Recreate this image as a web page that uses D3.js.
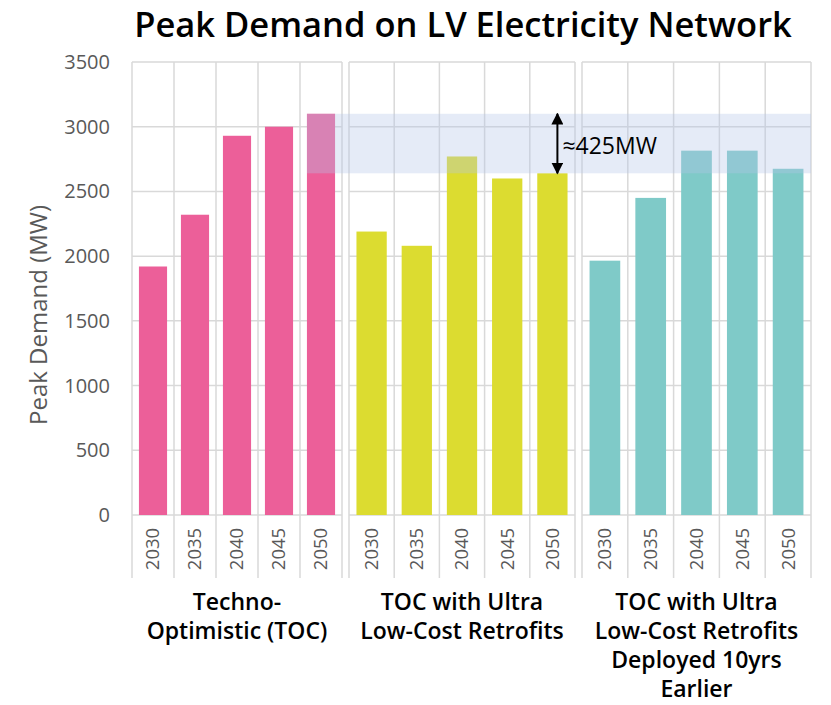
<!DOCTYPE html>
<html>
<head>
<meta charset="utf-8">
<script src="https://cdn.jsdelivr.net/npm/d3@7"></script>
<style>
  body { margin: 0; background: #fff; }
  text { font-family: "Open Sans", "Noto Sans", sans-serif; }
</style>
</head>
<body>
<svg id="chart"></svg>
<script>
// Data
var years = ['2030', '2035', '2040', '2045', '2050']
var scenarioLabels = [
  ['Techno-', 'Optimistic (TOC)'],
  ['TOC with Ultra', 'Low-Cost Retrofits'],
  ['TOC with Ultra', 'Low-Cost Retrofits', 'Deployed 10yrs', 'Earlier']
]
var tocValues = [1920, 2320, 2930, 3000, 3100]
var ultraValues = [2190, 2080, 2770, 2600, 2640]
var earlierValues = [1965, 2450, 2815, 2815, 2675]
var yTicks = [0, 500, 1000, 1500, 2000, 2500, 3000, 3500]
var gapLabel = '≈425MW'

var series = [tocValues, ultraValues, earlierValues]
var colors = ['#ec5f99', '#dcdc30', '#7fcac8']

var width = 831,
    height = 705

var svg = d3.select('#chart')
  .attr('width', width)
  .attr('height', height)

// Scales
var y = d3.scaleLinear().domain([0, 3500]).range([515, 62])
var panelExtents = [[132, 342], [349, 575], [582, 811]]
var xs = panelExtents.map(function (e) {
  return d3.scaleBand().domain(years).range(e).paddingInner(0.33).paddingOuter(0.165)
})
var gridBottom = 578
var gridColor = '#d9d9d9'

// Title
svg.append('text')
  .attr('x', 463)
  .attr('y', 37)
  .attr('text-anchor', 'middle')
  .attr('font-size', 34.5)
  .attr('font-weight', 600)
  .attr('fill', '#000')
  .text('Peak Demand on LV Electricity Network')

// Y axis label
svg.append('text')
  .attr('transform', 'translate(47,315) rotate(-90)')
  .attr('text-anchor', 'middle')
  .attr('font-size', 24)
  .attr('fill', '#595959')
  .text('Peak Demand (MW)')

// Y tick labels
svg.append('g')
  .selectAll('text')
  .data(yTicks)
  .enter()
  .append('text')
  .attr('x', 110)
  .attr('y', function (d) { return y(d) })
  .attr('dy', '0.35em')
  .attr('text-anchor', 'end')
  .attr('font-size', 20)
  .attr('fill', '#595959')
  .text(function (d) { return d })

// Panels
panelExtents.forEach(function (ext, i) {
  var x = xs[i]
  var g = svg.append('g')
  var step = x.step()

  // horizontal grid
  g.selectAll('line.h')
    .data(yTicks)
    .enter()
    .append('line')
    .attr('x1', ext[0]).attr('x2', ext[1])
    .attr('y1', function (d) { return y(d) })
    .attr('y2', function (d) { return y(d) })
    .attr('stroke', gridColor)
    .attr('stroke-width', 1.5)

  // column boundaries
  var bounds = [ext[0]].concat(years.map(function (yr) { return x(yr) + x.bandwidth() + (step - x.bandwidth()) / 2 }))
  g.selectAll('line.v')
    .data(bounds)
    .enter()
    .append('line')
    .attr('x1', function (d) { return d }).attr('x2', function (d) { return d })
    .attr('y1', y(3500))
    .attr('y2', gridBottom)
    .attr('stroke', gridColor)
    .attr('stroke-width', 1.5)

  // bars
  g.selectAll('rect')
    .data(series[i])
    .enter()
    .append('rect')
    .attr('x', function (d, j) { return x(years[j]) })
    .attr('width', x.bandwidth())
    .attr('y', function (d) { return y(d) })
    .attr('height', function (d) { return y(0) - y(d) })
    .attr('fill', colors[i])

  // year labels
  g.selectAll('text.yr')
    .data(years)
    .enter()
    .append('text')
    .attr('transform', function (d) {
      return 'translate(' + (x(d) + x.bandwidth() / 2) + ',549) rotate(-90)'
    })
    .attr('text-anchor', 'middle')
    .attr('dy', '0.35em')
    .attr('font-size', 18.5)
    .attr('fill', '#595959')
    .text(function (d) { return d })

  // scenario label
  var cx = (ext[0] + ext[1]) / 2
  g.selectAll('text.cat')
    .data(scenarioLabels[i])
    .enter()
    .append('text')
    .attr('x', cx)
    .attr('y', function (d, j) { return 610 + j * 29 })
    .attr('text-anchor', 'middle')
    .attr('font-size', 23)
    .attr('font-weight', 600)
    .attr('fill', '#000')
    .text(function (d) { return d })
})

// Gap band between TOC 2050 and ultra-low-cost 2050
var last = years[years.length - 1]
var bandTop = y(tocValues[4])
var bandBottom = y(ultraValues[4])
svg.append('rect')
  .attr('x', xs[0](last))
  .attr('y', bandTop)
  .attr('width', panelExtents[2][1] - xs[0](last))
  .attr('height', bandBottom - bandTop)
  .attr('fill', '#b4c7e7')
  .attr('opacity', 0.35)

// Double arrow
var ax = xs[1](last) + xs[1].bandwidth() / 2 + 5
svg.append('defs').append('marker')
  .attr('id', 'head')
  .attr('viewBox', '0 0 10 10')
  .attr('refX', 9).attr('refY', 5)
  .attr('markerWidth', 6).attr('markerHeight', 6)
  .attr('orient', 'auto-start-reverse')
  .append('path')
  .attr('d', 'M0,0L10,5L0,10Z')
  .attr('fill', '#000')
svg.append('line')
  .attr('x1', ax).attr('x2', ax)
  .attr('y1', bandTop).attr('y2', bandBottom)
  .attr('stroke', '#000')
  .attr('stroke-width', 2)
  .attr('marker-start', 'url(#head)')
  .attr('marker-end', 'url(#head)')

svg.append('text')
  .attr('x', ax + 5)
  .attr('y', (bandTop + bandBottom) / 2 + 2)
  .attr('dy', '0.35em')
  .attr('font-size', 23)
  .attr('fill', '#000')
  .text(gapLabel)
</script>
</body>
</html>
